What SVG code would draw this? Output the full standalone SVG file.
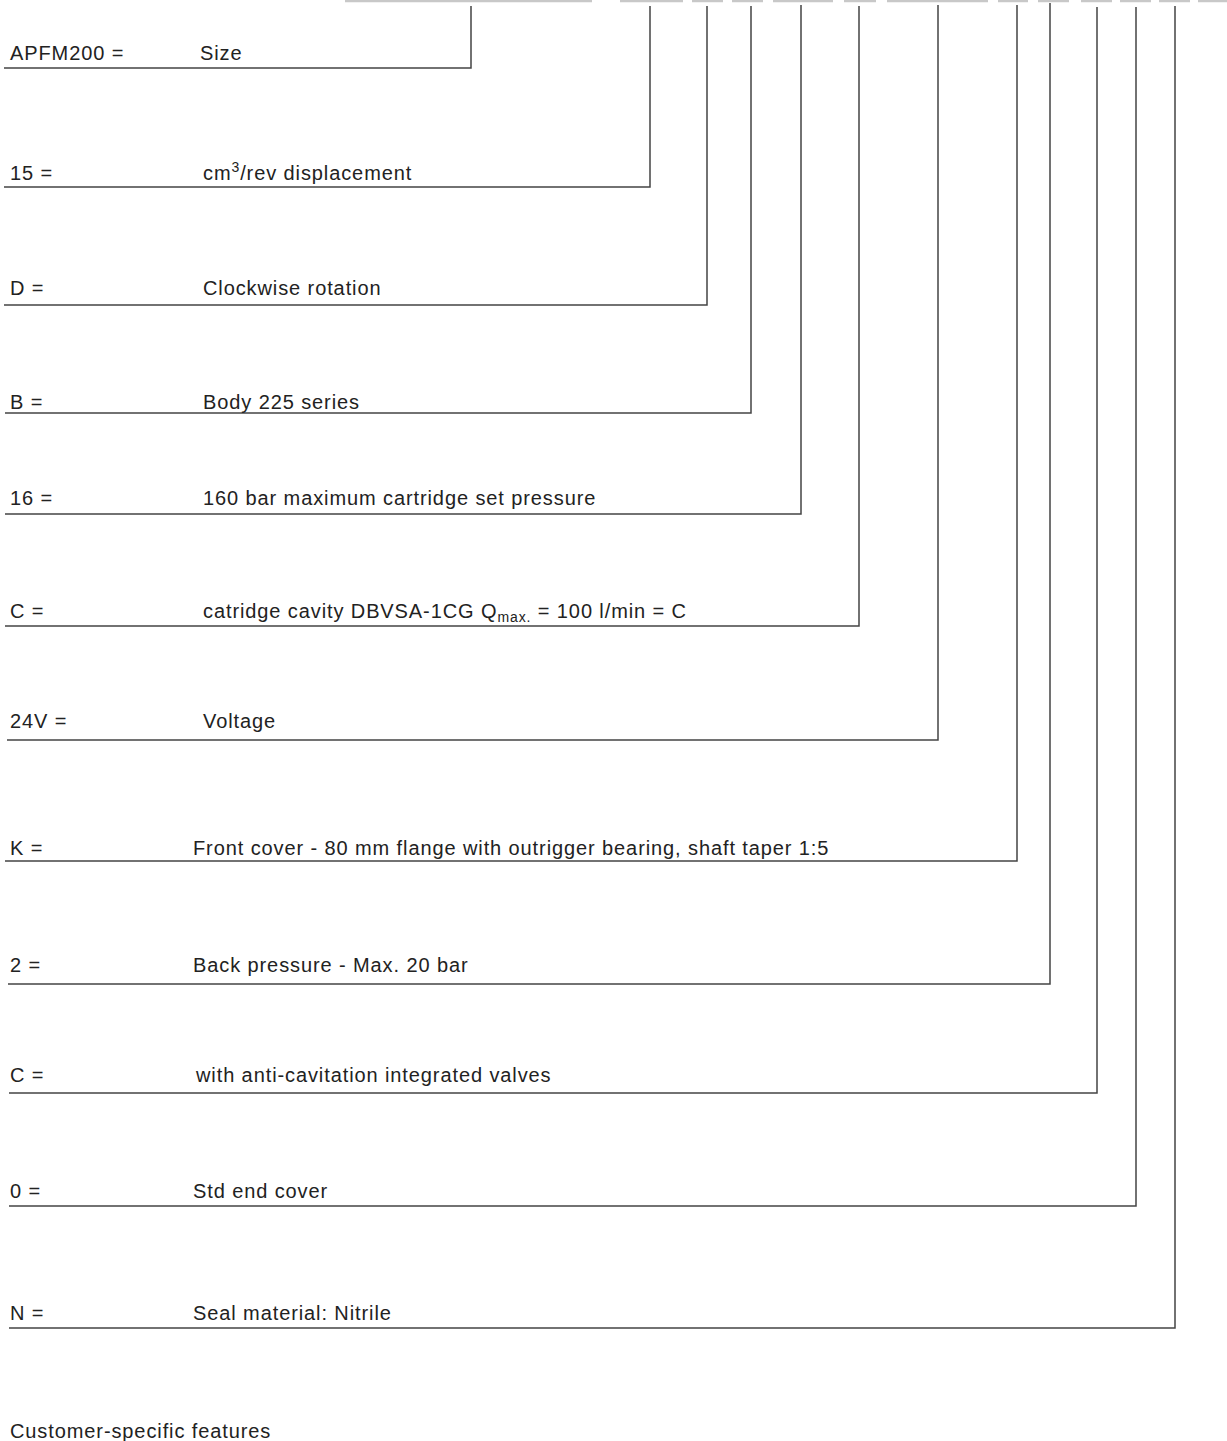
<svg xmlns="http://www.w3.org/2000/svg" width="1227" height="1441" viewBox="0 0 1227 1441">
<style>
text{font-family:"Liberation Sans",Arial,sans-serif;font-size:20px;fill:#222;letter-spacing:0.9px}
.c{fill:none;stroke:#444;stroke-width:1.5}
.top{stroke:#c8c8c8;stroke-width:2.5}
</style>
<rect width="1227" height="1441" fill="#fff"/>
<g id="code-boxes" class="top">
<line x1="345" y1="1" x2="592" y2="1"/><line x1="620" y1="1" x2="683" y2="1"/><line x1="692" y1="1" x2="723" y2="1"/><line x1="732" y1="1" x2="763" y2="1"/><line x1="773" y1="1" x2="833" y2="1"/><line x1="844" y1="1" x2="876" y2="1"/><line x1="887" y1="1" x2="988" y2="1"/><line x1="998" y1="1" x2="1028" y2="1"/><line x1="1038" y1="1" x2="1069" y2="1"/><line x1="1081" y1="1" x2="1112" y2="1"/><line x1="1120" y1="1" x2="1151" y2="1"/><line x1="1159" y1="1" x2="1190" y2="1"/><line x1="1198" y1="1" x2="1227" y2="1"/>
</g>
<g id="connectors">
<polyline class="c" points="471,6 471,68 4,68"/>
<polyline class="c" points="650,6 650,187 4,187"/>
<polyline class="c" points="707,6 707,305 4,305"/>
<polyline class="c" points="751,6 751,413 5,413"/>
<polyline class="c" points="801,5 801,514 5,514"/>
<polyline class="c" points="859,6 859,626 5,626"/>
<polyline class="c" points="938,5 938,740 7,740"/>
<polyline class="c" points="1017,5 1017,861 5,861"/>
<polyline class="c" points="1050,3 1050,984 8,984"/>
<polyline class="c" points="1097,7 1097,1093 9,1093"/>
<polyline class="c" points="1136,7 1136,1206 9,1206"/>
<polyline class="c" points="1175,6 1175,1328 9,1328"/>
</g>
<g id="n1"><text x="10" y="60">APFM200 =</text><text x="200" y="60">Size</text></g>
<g id="n2"><text x="10" y="180">15 =</text><text x="203" y="180">cm<tspan font-size="14" dy="-8">3</tspan><tspan dy="8">/rev displacement</tspan></text></g>
<g id="n3"><text x="10" y="295">D =</text><text x="203" y="295">Clockwise rotation</text></g>
<g id="n4"><text x="10" y="409">B =</text><text x="203" y="409">Body 225 series</text></g>
<g id="n5"><text x="10" y="505">16 =</text><text x="203" y="505">160 bar maximum cartridge set pressure</text></g>
<g id="n6"><text x="10" y="618">C =</text><text x="203" y="618">catridge cavity DBVSA-1CG Q<tspan font-size="14" dy="4">max.</tspan><tspan dy="-4"> = 100 l/min = C</tspan></text></g>
<g id="n7"><text x="10" y="728">24V =</text><text x="203" y="728">Voltage</text></g>
<g id="n8"><text x="10" y="855">K =</text><text x="193" y="855">Front cover - 80 mm flange with outrigger bearing, shaft taper 1:5</text></g>
<g id="n9"><text x="10" y="972">2 =</text><text x="193" y="972">Back pressure - Max. 20 bar</text></g>
<g id="n10"><text x="10" y="1082">C =</text><text x="196" y="1082">with anti-cavitation integrated valves</text></g>
<g id="n11"><text x="10" y="1198">0 =</text><text x="193" y="1198">Std end cover</text></g>
<g id="n12"><text x="10" y="1320">N =</text><text x="193" y="1320">Seal material: Nitrile</text></g>
<g id="n13"><text x="10" y="1438">Customer-specific features</text></g>
</svg>
